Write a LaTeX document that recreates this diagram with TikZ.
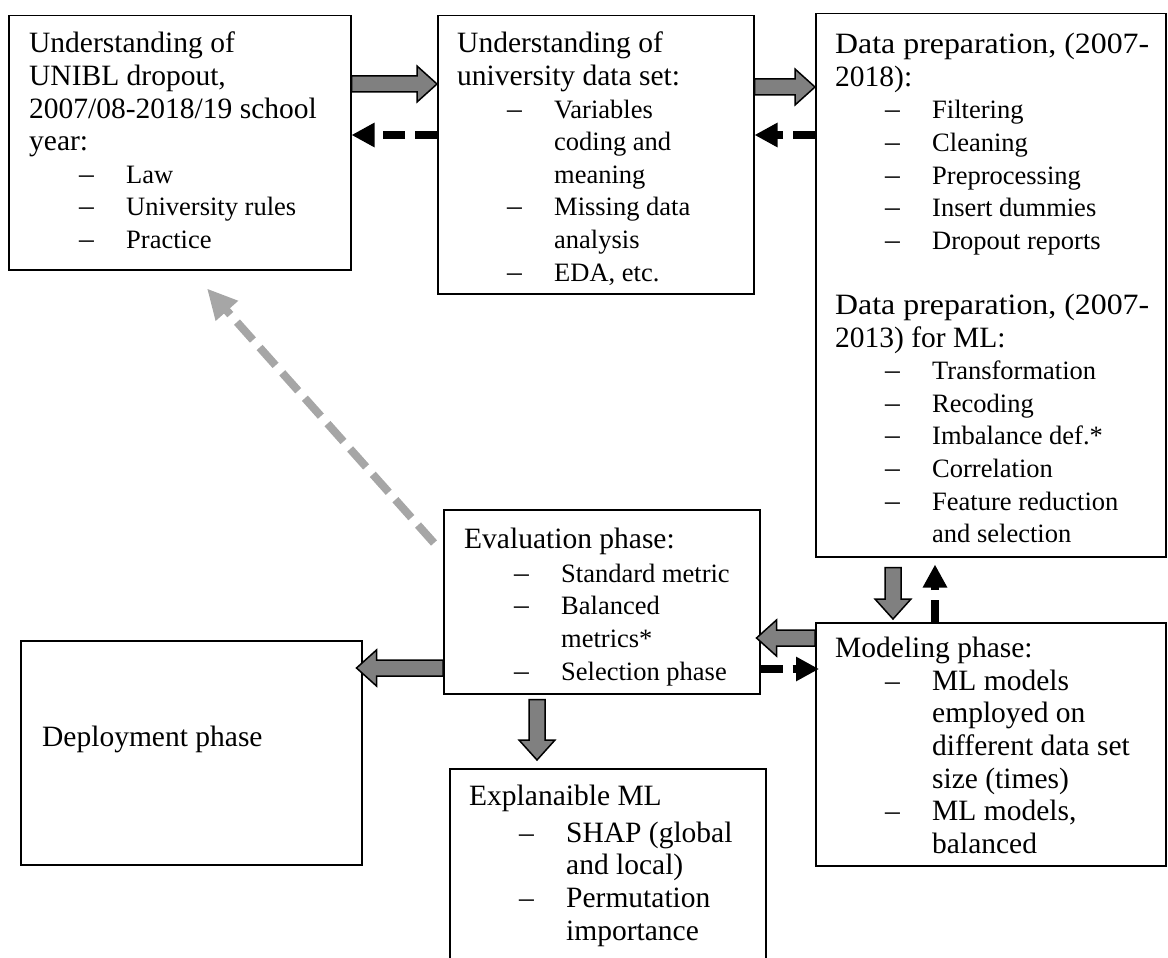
\documentclass[tikz,border=0pt]{standalone}
\usepackage{graphicx}
\usepackage{fontspec}
\setmainfont{Liberation Serif}
\usetikzlibrary{arrows.meta,calc}
\newcommand{\sm}{\fontsize{26.5pt}{32.6pt}\selectfont}
\newcommand{\dashitem}[1]{\hspace*{50pt}\makebox[47pt][l]{–}#1}
\newcommand{\contitem}[1]{\hspace*{97pt}#1}
\newcommand{\smitem}[1]{\hspace*{50pt}\makebox[47pt][l]{–}{\sm #1}}
\newcommand{\smcont}[1]{\hspace*{97pt}{\sm #1}}
\newcommand{\wideline}[1]{\scalebox{1.08}[1]{#1}}
\begin{document}
\begin{tikzpicture}[x=1pt, y=-1pt,
  box/.style={draw, line width=1.5pt, anchor=north west, inner sep=0pt},
  txt/.style={anchor=north west, inner sep=0pt, align=left, font=\fontsize{29.5pt}{32.6pt}\selectfont},
  fatarrow/.style={draw=black, fill=gray, line width=1.5pt, line join=miter,
    to path={($(\tikztostart)!8pt!90:(\tikztotarget)$)
      -- ($($(\tikztotarget)!20pt!(\tikztostart)$)!8pt!-90:(\tikztostart)$)
      -- ($($(\tikztotarget)!20pt!(\tikztostart)$)!18pt!-90:(\tikztostart)$)
      -- (\tikztotarget)
      -- ($($(\tikztotarget)!20pt!(\tikztostart)$)!18pt!90:(\tikztostart)$)
      -- ($($(\tikztotarget)!20pt!(\tikztostart)$)!8pt!90:(\tikztostart)$)
      -- ($(\tikztostart)!8pt!-90:(\tikztotarget)$) -- cycle}},
  dasharrow/.style={draw=black, line width=8pt, dash pattern=on 22pt off 10pt, -{Triangle[length=23pt,width=23pt]}},
  graydash/.style={draw=gray!70, line width=8pt, dash pattern=on 24pt off 10pt, -{Triangle[length=30pt,width=28pt]}}]
\useasboundingbox (0,0) rectangle (1168,958);
\clip (0,0) rectangle (1168,958);
% boxes
\node[box, minimum width=342pt, minimum height=254pt] (dropout) at (8,15) {};
\node[box, minimum width=316pt, minimum height=278pt] (dataset) at (437,15) {};
\node[box, minimum width=350pt, minimum height=543pt] (prep) at (815,13) {};
\node[box, minimum width=316pt, minimum height=184pt] (evalph) at (443,509) {};
\node[box, minimum width=341pt, minimum height=224pt] (deploy) at (20,640) {};
\node[box, minimum width=350pt, minimum height=243pt] (model) at (815,622) {};
\node[box, minimum width=316pt, minimum height=230pt] (xml) at (449,768) {};
% texts
\node[txt] (dropout-t) at ([xshift=21pt,yshift=-17pt]dropout.north west) {Understanding of\\UNIBL dropout,\\2007/08-2018/19 school\\year:\\
  \smitem{Law}\\\smitem{University rules}\\\smitem{Practice}};
\node[txt] (dataset-t) at ([xshift=20pt,yshift=-17pt]dataset.north west) {Understanding of\\university data set:\\
  \smitem{Variables}\\\smcont{coding and}\\\smcont{meaning}\\\smitem{Missing data}\\\smcont{analysis}\\\smitem{EDA, etc.}};
\node[txt] (prep-t) at ([xshift=20pt,yshift=-20pt]prep.north west) {\wideline{Data preparation, (2007-}\\2018):\\
  \smitem{Filtering}\\\smitem{Cleaning}\\\smitem{Preprocessing}\\\smitem{Insert dummies}\\\smitem{Dropout reports}\\[32.6pt]
  \wideline{Data preparation, (2007-}\\2013) for ML:\\
  \smitem{Transformation}\\\smitem{Recoding}\\\smitem{Imbalance def.*}\\\smitem{Correlation}\\\smitem{Feature reduction}\\\smcont{and selection}};
\node[txt] (evalph-t) at ([xshift=21pt,yshift=-19pt]evalph.north west) {Evaluation phase:\\[1pt]
  \smitem{Standard metric}\\\smitem{Balanced}\\\smcont{metrics*}\\\smitem{Selection phase}};
\node[txt] (deploy-t) at ([xshift=22pt,yshift=-86pt]deploy.north west) {Deployment phase};
\node[txt] (model-t) at ([xshift=20pt,yshift=-15pt]model.north west) {Modeling phase:\\
  \dashitem{ML models}\\\contitem{employed on}\\\contitem{different data set}\\\contitem{size (times)}\\\dashitem{ML models,}\\\contitem{balanced}};
\node[txt] (xml-t) at ([xshift=20pt,yshift=-17pt]xml.north west) {Explanaible ML\\[4pt]
  \dashitem{SHAP (global}\\\contitem{and local)}\\\dashitem{Permutation}\\\contitem{importance}};
% block arrows
\draw[fatarrow] ([yshift=-69pt]dropout.north east) to ([yshift=-69pt]dataset.north west);
\draw[fatarrow] ([yshift=-72pt]dataset.north east) to ([yshift=-74pt]prep.north west);
\draw[fatarrow] ([xshift=78pt,yshift=-10pt]prep.south west) to ([xshift=78pt,yshift=3pt]model.north west);
\draw[fatarrow] ([yshift=-16pt]model.north west) to ([xshift=-4pt,yshift=-129pt]evalph.north east);
\draw[fatarrow] ([yshift=-159pt]evalph.north west) to ([xshift=-6pt,yshift=-28pt]deploy.north east);
\draw[fatarrow] ([xshift=94pt,yshift=-5pt]evalph.south west) to ([xshift=88pt,yshift=8pt]xml.north west);
% dashed arrows
\draw[dasharrow] ([yshift=-120pt]dataset.north west) -- ([yshift=-120pt]dropout.north east);
\draw[dasharrow] ([yshift=-122pt]prep.north west) -- ([yshift=-120pt]dataset.north east);
\draw[dasharrow] ([xshift=120pt]model.north west) -- ([xshift=120pt,yshift=-7pt]prep.south west);
\draw[dasharrow] ([yshift=-160pt]evalph.north east) -- ([xshift=4pt,yshift=-47pt]model.north west);
\draw[graydash] ([xshift=-9pt,yshift=-34pt]evalph.north west) -- ([xshift=199pt,yshift=-18pt]dropout.south west);
\end{tikzpicture}
\end{document}
